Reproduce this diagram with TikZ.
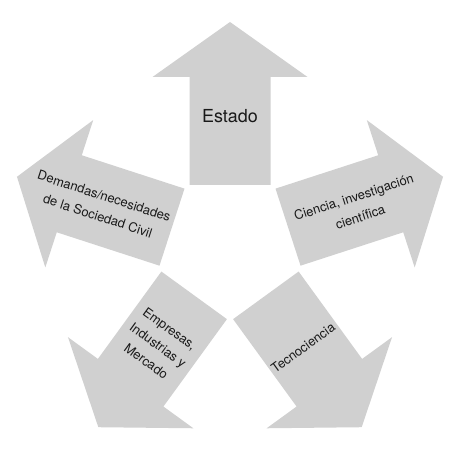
\documentclass[tikz,border=0pt]{standalone}
\usepackage{fontspec}
\setmainfont{TeX Gyre Heros}
\definecolor{flechagris}{RGB}{208,208,208}
\tikzset{
  flecha/.style={fill=flechagris, draw=none},
  etiqueta/.style={align=center, inner sep=0pt, text=black!90, font=\fontsize{13}{21}\selectfont},
}
\begin{document}
\begin{tikzpicture}[x=1bp, y=1bp]
  \useasboundingbox (0,0) rectangle (466,452);
  \coordinate (centro) at (230,206);
  % Flechas (una cada 72 grados)
  \foreach \ang in {90,18,-54,-126,162}{
    \fill[flecha, shift={(centro)}, rotate=\ang]
      (61,-40.5) -- (169,-40.5) -- (169,-77.5) -- (224,0)
      -- (169,77.5) -- (169,40.5) -- (61,40.5) -- cycle;
  }
  % Etiquetas
  \node[etiqueta, font=\fontsize{18}{22}\selectfont] (estado) at (230,336) {Estado};
  \node[etiqueta, rotate=18] (ciencia) at (357,245) {Ciencia, investigación\\científica};
  \node[etiqueta, rotate=36] (tecno) at (303,104) {Tecnociencia};
  \node[etiqueta, rotate=-36, font=\fontsize{13}{20}\selectfont] (empresas) at (158,107) {Empresas,\\Industrias y\\Mercado};
  \node[etiqueta, rotate=-18] (demandas) at (101,246) {Demandas/necesidades\\de la Sociedad Civil};
\end{tikzpicture}
\end{document}
